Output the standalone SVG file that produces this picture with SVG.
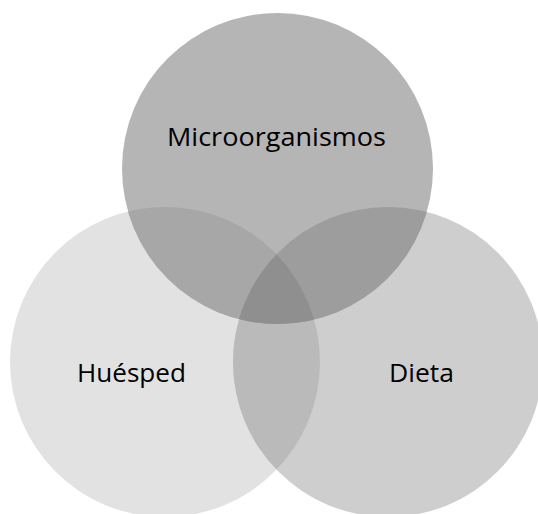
<svg xmlns="http://www.w3.org/2000/svg" width="538" height="514" viewBox="0 0 538 514">
  <style>
    .lbl { font-family: "Open Sans", "Liberation Sans", sans-serif; font-size: 26px; fill: #000000; text-anchor: middle; }
  </style>
  <defs>
    <clipPath id="clipT"><circle cx="277.5" cy="168.5" r="155.5"/></clipPath>
    <clipPath id="clipL"><circle cx="165" cy="362" r="155"/></clipPath>
    <clipPath id="clipR"><circle cx="388" cy="362" r="155"/></clipPath>
  </defs>
  <rect width="538" height="514" fill="#ffffff"/>
  <g id="node-huesped">
    <circle cx="165" cy="362" r="155" fill="#e2e2e2"/>
  </g>
  <g id="node-dieta">
    <circle cx="388" cy="362" r="155" fill="#cecece"/>
  </g>
  <g id="node-microorganismos">
    <circle cx="277.5" cy="168.5" r="155.5" fill="#b5b5b5"/>
  </g>
  <g id="overlaps">
    <circle cx="165" cy="362" r="155" fill="#bababa" clip-path="url(#clipR)"/>
    <circle cx="165" cy="362" r="155" fill="#a7a7a7" clip-path="url(#clipT)"/>
    <circle cx="388" cy="362" r="155" fill="#9d9d9d" clip-path="url(#clipT)"/>
    <g clip-path="url(#clipT)">
      <circle cx="165" cy="362" r="155" fill="#8f8f8f" clip-path="url(#clipR)"/>
    </g>
  </g>
  <g id="labels">
    <text class="lbl" x="276.5" y="146" textLength="219" lengthAdjust="spacingAndGlyphs">Microorganismos</text>
    <text class="lbl" x="131.5" y="382" textLength="109" lengthAdjust="spacingAndGlyphs">Huésped</text>
    <text class="lbl" x="421.5" y="382" textLength="65" lengthAdjust="spacingAndGlyphs">Dieta</text>
  </g>
</svg>
